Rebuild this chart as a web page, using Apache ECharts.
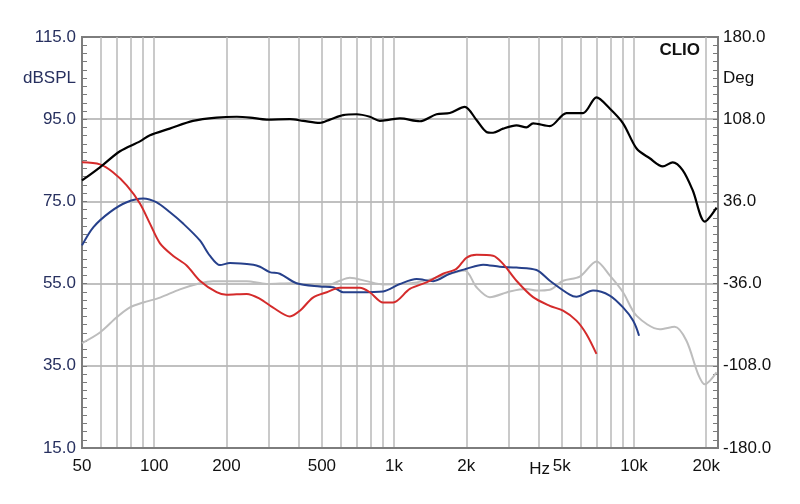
<!DOCTYPE html>
<html>
<head>
<meta charset="utf-8">
<script src="https://cdn.jsdelivr.net/npm/echarts@6/dist/echarts.min.js"></script>
<style>html,body{margin:0;padding:0;background:#fff;}#c{width:800px;height:504px;}</style>
</head>
<body>
<div id="c"></div>
<script>
// Frequencies (Hz) and SPL (dB)
const blackFreq = [50, 59.4, 72, 87.2, 96, 116, 145, 182, 221, 251, 294, 368, 418, 490, 540, 613, 698, 792, 872, 960, 1057, 1280, 1502, 1707, 1970, 2206, 2427, 2586, 2846, 3237, 3562, 3797, 4457, 5232, 6134, 6976, 7923, 9003, 10270, 11630, 13180, 14500, 15950, 17570, 19730, 22100];
const blackSpl  = [80.1, 83.3, 87.2, 89.6, 91.1, 92.7, 94.6, 95.4, 95.6, 95.4, 94.9, 95.0, 94.6, 94.1, 94.9, 96.0, 96.2, 95.6, 94.6, 94.9, 95.2, 94.5, 96.2, 96.5, 98.0, 94.8, 91.9, 91.7, 92.7, 93.5, 93.0, 94.0, 93.3, 96.5, 96.5, 100.3, 97.6, 94.0, 87.8, 85.5, 83.5, 84.5, 82.6, 77.7, 70.1, 73.5];

const redFreq = [50, 59.4, 67.3, 76.8, 87.2, 96, 105.7, 119.7, 136.5, 155, 182, 200, 243, 276, 312, 368, 405, 459, 524, 594, 720, 792, 900, 991, 1163, 1365, 1600, 1819, 2004, 2206, 2586, 2846, 3237, 3797, 4457, 5062, 5755, 6339, 6976];
const redSpl  = [84.5, 84.0, 82.1, 78.9, 74.5, 69.6, 64.8, 61.8, 59.4, 55.7, 52.9, 52.3, 52.5, 51.3, 49.2, 47.0, 48.4, 51.6, 52.9, 54.0, 54.0, 52.9, 50.4, 50.4, 53.7, 55.3, 57.4, 58.6, 61.3, 62.0, 61.8, 59.8, 55.7, 51.7, 49.6, 48.4, 46.0, 42.7, 37.9];

const blueFreq = [50, 55.7, 65.4, 76.8, 90, 102, 116, 132, 155, 170.6, 188, 207, 259, 276, 303, 334, 392, 490, 557, 613, 720, 900, 1057, 1241, 1455, 1707, 2004, 2350, 2758, 3237, 3924, 4457, 5395, 5755, 6749, 7923, 9003, 9910, 10500];
const blueSpl  = [64.3, 68.7, 72.4, 74.8, 75.7, 74.8, 72.4, 69.6, 65.5, 61.8, 59.5, 60.0, 59.6, 59.1, 57.8, 57.4, 55.1, 54.3, 54.1, 52.9, 52.9, 53.1, 54.9, 56.1, 55.6, 57.4, 58.6, 59.6, 59.1, 58.9, 58.3, 55.7, 52.3, 51.8, 53.3, 52.1, 49.2, 46.0, 42.3];

const grayFreq = [50, 59.4, 69.8, 79.2, 90, 105.7, 128, 155, 176, 243, 294, 380, 432, 523, 594, 654, 768, 900, 1241, 1550, 1970, 2206, 2506, 3035, 3562, 3924, 4457, 5062, 5943, 6976, 7923, 9003, 10240, 12800, 14780, 16550, 18500, 19730, 22100];
const graySpl  = [40.5, 43.1, 46.8, 49.2, 50.4, 51.6, 53.6, 55.1, 55.6, 55.6, 54.9, 55.1, 54.8, 54.5, 55.7, 56.4, 55.6, 54.8, 55.3, 56.7, 58.2, 54.1, 51.7, 53.1, 53.7, 53.3, 53.5, 55.7, 56.7, 60.4, 57.0, 52.9, 47.2, 43.9, 44.5, 41.1, 33.0, 30.5, 33.4];

// Axis ticks and labels
const xLabelValues = [50, 100, 200, 500, 1000, 2000, 5000, 10000, 20000];
const xGridValues = [60, 70, 80, 90, 100, 200, 300, 400, 500, 600, 700, 800, 900, 1000, 2000, 3000, 4000, 5000, 6000, 7000, 8000, 9000, 10000, 20000];
const leftLabelValues = [15, 35, 55, 75, 95, 105, 115];
const rightLabelValues = [-180, -108, -36, 36, 108, 144, 180];
const yGridValues = [35, 55, 75, 95];

function pairs(f, s) { return f.map((x, i) => [x, s[i]]); }
function fmtX(v) {
  if (v >= 1000) return (v / 1000) + 'k';
  return String(v);
}

const chart = echarts.init(document.getElementById('c'), null, {renderer: 'canvas'});
const FONT = 'Liberation Sans, Arial, sans-serif';
const hidden = {axisLine: {show: false}, axisLabel: {show: false}, splitLine: {show: false}};
function tickAxis(pos) {
  return Object.assign({
    type: 'value', min: 0, max: 100, interval: 2, position: pos,
    axisTick: {show: true, inside: true, length: 5, lineStyle: {color: '#7a7a7a', width: 1}}
  }, hidden);
}
chart.setOption({
  animation: false,
  backgroundColor: '#ffffff',
  grid: {left: 82, right: 82, top: 37, bottom: 56, show: true, borderColor: '#7d7d7d', borderWidth: 2, backgroundColor: 'transparent'},
  xAxis: {
    type: 'log', logBase: 10, min: 50, max: 22400,
    axisLine: {show: true, onZero: false, lineStyle: {color: '#7d7d7d', width: 2}},
    axisTick: {show: false, customValues: xGridValues},
    splitLine: {show: true, lineStyle: {color: '#b9b9b9', width: 1.5}},
    minorTick: {show: false}, minorSplitLine: {show: false},
    axisLabel: {customValues: xLabelValues, formatter: fmtX, color: '#111', fontSize: 17, fontFamily: FONT, margin: 10}
  },
  yAxis: [
    {
      type: 'value', min: 15, max: 115, position: 'left',
      axisLine: {show: true, onZero: false, lineStyle: {color: '#7d7d7d', width: 2}},
      axisTick: {show: false},
      splitLine: {show: false},
      axisLabel: {customValues: leftLabelValues, formatter: v => (Math.abs(v - 105) < 0.01 ? 'dBSPL' : v.toFixed(1)), color: '#27305f', fontSize: 17, fontFamily: FONT, margin: 6}
    },
    {
      type: 'value', min: -180, max: 180, position: 'right',
      axisLine: {show: true, onZero: false, lineStyle: {color: '#7d7d7d', width: 2}},
      axisTick: {show: false},
      splitLine: {show: false},
      axisLabel: {customValues: rightLabelValues, formatter: v => (Math.abs(v - 144) < 0.01 ? 'Deg' : v.toFixed(1)), color: '#111', fontSize: 17, fontFamily: FONT, margin: 5}
    },
    {
      type: 'value', min: 15, max: 115, position: 'left',
      axisLine: {show: false},
      axisTick: {show: false, customValues: yGridValues},
      axisLabel: {show: false},
      splitLine: {show: true, lineStyle: {color: '#ababab', width: 1.5}}
    },
    tickAxis('left'),
    tickAxis('right')
  ],
  graphic: [
    {type: 'text', right: 100, top: 42, style: {text: 'CLIO', font: 'bold 17px ' + FONT, fill: '#111'}},
    {type: 'text', x: 550, y: 469, style: {text: 'Hz', font: '17px ' + FONT, fill: '#111', align: 'right', verticalAlign: 'middle'}}
  ],
  series: [
    {type: 'line', data: pairs(grayFreq, graySpl), yAxisIndex: 0, showSymbol: false, smooth: 0.3, lineStyle: {color: '#bdbdbd', width: 2}},
    {type: 'line', data: pairs(blueFreq, blueSpl), yAxisIndex: 0, showSymbol: false, smooth: 0.3, lineStyle: {color: '#26408b', width: 2}},
    {type: 'line', data: pairs(redFreq, redSpl), yAxisIndex: 0, showSymbol: false, smooth: 0.3, lineStyle: {color: '#d42b2b', width: 2}},
    {type: 'line', data: pairs(blackFreq, blackSpl), yAxisIndex: 0, showSymbol: false, smooth: 0.3, lineStyle: {color: '#000000', width: 2.2}}
  ]
});
</script>
</body>
</html>
